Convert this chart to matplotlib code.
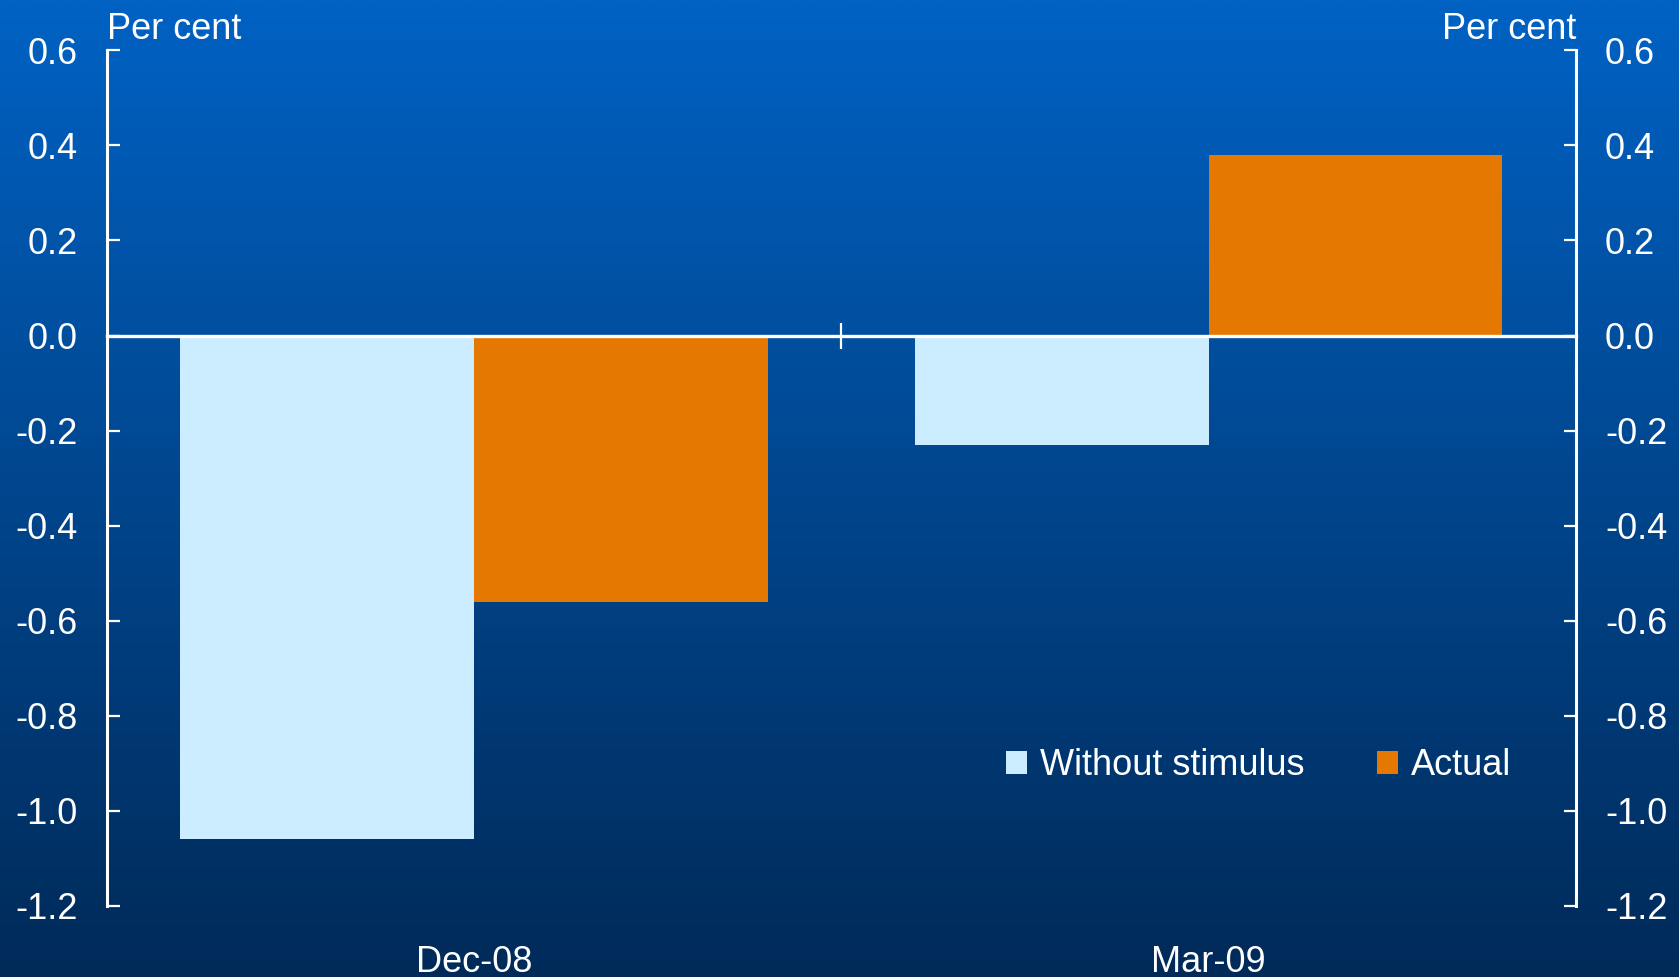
import numpy as np
import matplotlib
matplotlib.use("Agg")
import matplotlib.pyplot as plt
from matplotlib.colors import LinearSegmentedColormap
from matplotlib.patches import Patch

# Data
categories = ["Dec-08", "Mar-09"]
without_stimulus = [-1.06, -0.23]
actual = [-0.56, 0.38]
series_names = ["Without stimulus", "Actual"]
yticks = [0.6, 0.4, 0.2, 0.0, -0.2, -0.4, -0.6, -0.8, -1.0, -1.2]

light_blue = "#CCECFF"
orange = "#E57800"
white = "white"

plt.rcParams["font.family"] = ["Liberation Sans", "DejaVu Sans"]
FS = 26

fig = plt.figure(figsize=(16.79, 9.77), dpi=100)

# Vertical gradient background
bg = fig.add_axes([0, 0, 1, 1], zorder=0)
grad = np.linspace(0, 1, 512).reshape(-1, 1)
cmap = LinearSegmentedColormap.from_list("bg", ["#0062C4", "#00468E", "#002A58"])
bg.imshow(grad, aspect="auto", cmap=cmap, extent=[0, 1, 0, 1], origin="upper")
bg.set_axis_off()

ax = fig.add_axes([0.0637, 0.0727, 0.8749, 0.8758], zorder=1)
ax.patch.set_alpha(0)

x = np.arange(len(categories))
width = 0.4
ax.bar(x - width / 2, without_stimulus, width, color=light_blue, zorder=2,
       label=series_names[0])
ax.bar(x + width / 2, actual, width, color=orange, zorder=2,
       label=series_names[1])

ax.set_xlim(-0.5, len(categories) - 0.5)
ax.set_ylim(min(yticks), max(yticks))

# Spines
for side in ["left", "right"]:
    ax.spines[side].set_color(white)
    ax.spines[side].set_linewidth(2.2)
ax.spines["top"].set_visible(False)
ax.spines["bottom"].set_position(("data", 0))
ax.spines["bottom"].set_color(white)
ax.spines["bottom"].set_linewidth(2.4)
ax.spines["bottom"].set_zorder(3)

# Y ticks on both sides
ax.set_yticks(yticks)
ax.set_yticklabels([f"{v:.1f}" for v in yticks])
ax.tick_params(axis="y", direction="in", length=9, width=1.6, color=white,
               labelcolor=white, labelsize=FS, pad=21,
               left=True, right=True, labelleft=True, labelright=True)

# Divider tick between categories on the zero line
ax.set_xticks(x[:-1] + 0.5)
ax.tick_params(axis="x", direction="inout", length=19, width=1.6, color=white,
               labelbottom=False)

# Category labels below the plot area
sec = ax.secondary_xaxis("bottom")
sec.set_xticks(x, categories)
sec.tick_params(axis="x", length=0, pad=28, labelsize=FS, labelcolor=white)
sec.spines["bottom"].set_visible(False)

# Unit labels
ax.annotate("Per cent", xy=(0, 1), xycoords="axes fraction", xytext=(0, 8),
            textcoords="offset points", ha="left", va="baseline",
            color=white, fontsize=FS)
ax.annotate("Per cent", xy=(1, 1), xycoords="axes fraction", xytext=(0, 8),
            textcoords="offset points", ha="right", va="baseline",
            color=white, fontsize=FS)

# Legend
handles = [Patch(facecolor=light_blue, edgecolor="none"),
           Patch(facecolor=orange, edgecolor="none")]
leg = ax.legend(handles, series_names, loc="center left",
                bbox_to_anchor=(0.612, 0.164), ncol=2, frameon=False,
                fontsize=FS, handlelength=0.59, handleheight=0.59,
                handletextpad=0.36, columnspacing=2.0, borderpad=0,
                borderaxespad=0)
for t in leg.get_texts():
    t.set_color(white)

fig.savefig("out.png", dpi=100)
